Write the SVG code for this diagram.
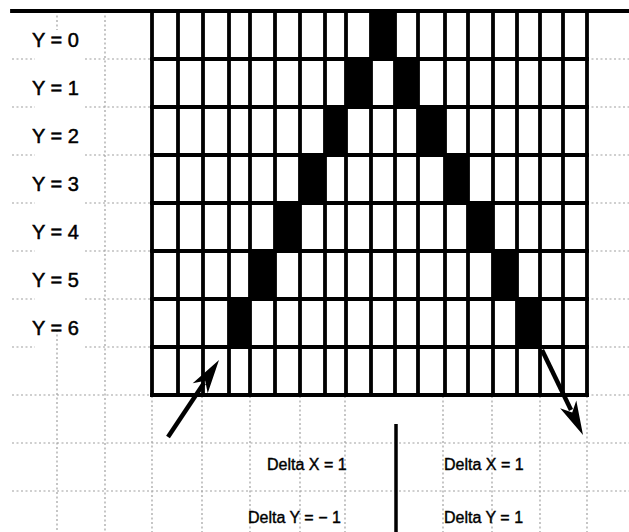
<svg xmlns="http://www.w3.org/2000/svg" width="629" height="532" viewBox="0 0 629 532">
<style>
.grid{stroke:#000;stroke-width:3.8;fill:none;stroke-linecap:square}
.dot{stroke:#a0a0a0;stroke-width:1.2;stroke-dasharray:2 2.5;fill:none}
.cell{fill:#000}
.lbl{font-family:"Liberation Sans",Arial,sans-serif;font-size:20px;fill:#000;stroke:#000;stroke-width:0.5}
.dl{font-family:"Liberation Sans",Arial,sans-serif;font-size:16px;fill:#000;stroke:#000;stroke-width:0.4}
.arr{stroke:#000;stroke-width:4.5;fill:none}
.head{fill:#000}
</style>
<rect width="629" height="532" fill="#fff"/>
<g id="guides">
<path class="dot" d="M12,59H35M85,59H152M12,107H35M85,107H152M12,155H35M85,155H152M12,203H35M85,203H152M12,251H35M85,251H152M12,299H35M85,299H152M12,347H35M85,347H152M12,395H152"/>
<path class="dot" d="M587,59H629M587,107H629M587,155H629M587,203H629M587,251H629M587,299H629M587,347H629M587,395H629"/>
<path class="dot" d="M12,443H629M12,491H629"/>
<path class="dot" d="M105,11V532M57,11V30M57,330V532M152,396V532M202,396V532M250,396V532M300,396V532M345,396V532M443,396V532M492,396V532M540,396V532M587,396V532"/>
</g>
<g id="cells">
<rect class="cell" x="371" y="11" width="24" height="48"/>
<rect class="cell" x="346" y="59" width="25" height="48"/>
<rect class="cell" x="395" y="59" width="23" height="48"/>
<rect class="cell" x="325" y="107" width="21" height="48"/>
<rect class="cell" x="418" y="107" width="27" height="48"/>
<rect class="cell" x="300" y="155" width="25" height="48"/>
<rect class="cell" x="445" y="155" width="23" height="48"/>
<rect class="cell" x="275" y="203" width="25" height="48"/>
<rect class="cell" x="468" y="203" width="25" height="48"/>
<rect class="cell" x="250" y="251" width="25" height="48"/>
<rect class="cell" x="493" y="251" width="24" height="48"/>
<rect class="cell" x="229" y="299" width="21" height="48"/>
<rect class="cell" x="517" y="299" width="23" height="48"/>
</g>
<g id="grid">
<path class="grid" d="M12,11H629" stroke-width="3"/>
<path class="grid" d="M152,59H587M152,107H587M152,155H587M152,203H587M152,251H587M152,299H587M152,347H587M152,395H587"/>
<path class="grid" d="M152,11V395M178,11V395M203,11V395M229,11V395M250,11V395M275,11V395M300,11V395M325,11V395M346,11V395M371,11V395M395,11V395M418,11V395M445,11V395M468,11V395M493,11V395M517,11V395M540,11V395M563,11V395M587,11V395"/>
</g>
<g id="labels">
<text class="lbl" x="32" y="47">Y = 0</text>
<text class="lbl" x="32" y="95">Y = 1</text>
<text class="lbl" x="32" y="143">Y = 2</text>
<text class="lbl" x="32" y="191">Y = 3</text>
<text class="lbl" x="32" y="239">Y = 4</text>
<text class="lbl" x="32" y="287">Y = 5</text>
<text class="lbl" x="32" y="335">Y = 6</text>
<text class="dl" x="267" y="470">Delta X = 1</text>
<text class="dl" x="248" y="523">Delta Y = − 1</text>
<text class="dl" x="444" y="470">Delta X = 1</text>
<text class="dl" x="444" y="523">Delta Y = 1</text>
</g>
<g id="connectors">
<line class="arr" x1="168" y1="437" x2="204" y2="383"/>
<polygon class="head" points="219,360 207.7,393.3 205.2,380.8 192.7,383.3"/>
<line class="arr" x1="542" y1="350" x2="571" y2="410"/>
<polygon class="head" points="583,435 560.1,408.3 572.2,412.5 576.3,400.5"/>
<line x1="396" y1="424" x2="396" y2="532" stroke="#000" stroke-width="3.5"/>
</g>
</svg>
